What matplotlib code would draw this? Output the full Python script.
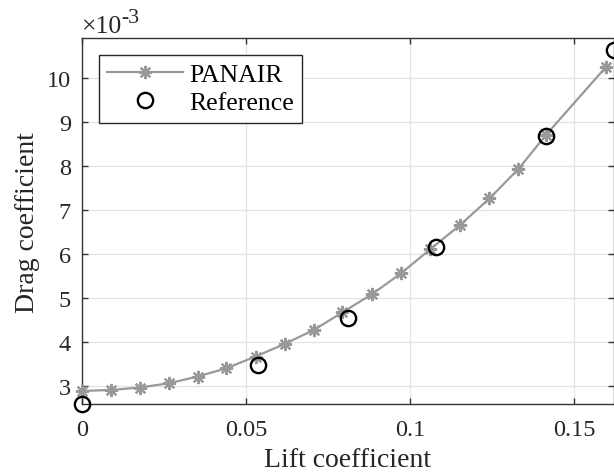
import matplotlib
matplotlib.use("Agg")
import matplotlib.pyplot as plt
from matplotlib.ticker import FixedLocator, FuncFormatter

plt.rcParams["font.family"] = ["Liberation Serif", "DejaVu Serif"]

# PANAIR polar: lift coefficient vs drag coefficient
panair_cl = [0.0, 0.00885, 0.0176, 0.0265, 0.0353, 0.0440, 0.0529, 0.0618,
             0.0707, 0.0793, 0.0884, 0.0972, 0.1062, 0.1152, 0.1242, 0.1330,
             0.1414, 0.1596]
panair_cd = [2.886e-3, 2.909e-3, 2.964e-3, 3.061e-3, 3.214e-3, 3.402e-3,
             3.668e-3, 3.955e-3, 4.273e-3, 4.668e-3, 5.084e-3, 5.555e-3,
             6.107e-3, 6.652e-3, 7.259e-3, 7.925e-3, 8.698e-3, 10.236e-3]

# Reference data points
ref_cl = [0.0, 0.0536, 0.0811, 0.1080, 0.1415, 0.1620]
ref_cd = [2.59e-3, 3.48e-3, 4.55e-3, 6.16e-3, 8.68e-3, 10.64e-3]

x_ticks = [0, 0.05, 0.1, 0.15]
x_tick_labels = ["0", "0.05", "0.1", "0.15"]
y_ticks = [3e-3, 4e-3, 5e-3, 6e-3, 7e-3, 8e-3, 9e-3, 10e-3]

TICK_FS = 17.5
LEG_FS = 18.5
LABEL_FS = 20
W, H = 614, 477
fig = plt.figure(figsize=(W / 100, H / 100), dpi=100)
ax = fig.add_axes([82 / W, 1 - 405 / H, (613.5 - 82) / W, (405 - 39.3) / H])

ax.plot(panair_cl, panair_cd, color="#999999", lw=1.6,
        marker=(8, 2, 0), markersize=9.5, markeredgewidth=1.6,
        label="PANAIR", clip_on=False, zorder=3)
ax.plot(ref_cl, ref_cd, linestyle="none", marker="o", markersize=11,
        markerfacecolor="none", markeredgecolor="black", markeredgewidth=1.7,
        label="Reference", clip_on=False, zorder=4)

ax.set_xlim(0, 0.162)
ax.set_ylim(2.59e-3, 10.895e-3)

ax.xaxis.set_major_locator(FixedLocator(x_ticks))
ax.set_xticklabels(x_tick_labels)
ax.yaxis.set_major_locator(FixedLocator(y_ticks))
ax.yaxis.set_major_formatter(FuncFormatter(lambda v, p: f"{v * 1e3:.0f}"))

ax.grid(True, color="#e2e2e2", lw=0.9)
ax.set_axisbelow(True)
for s in ax.spines.values():
    s.set_color("#333333")
    s.set_linewidth(1.0)
ax.tick_params(direction="in", length=4.5, width=1.0, color="#333333",
               top=True, right=True, labelsize=TICK_FS, labelcolor="#262626")
ax.tick_params(axis="x", pad=11)
ax.tick_params(axis="y", pad=8)

ax.set_xlabel("Lift coefficient", fontsize=LABEL_FS, color="#262626", labelpad=5)
ax.set_ylabel("Drag coefficient", fontsize=LABEL_FS, color="#262626", labelpad=5)

# exponent marker above the y axis
fig.text(82 / W, 1 - 33.3 / H, "\u00d710", fontsize=LEG_FS, color="#262626",
         ha="left", va="baseline")
fig.text(121 / W, 1 - 23 / H, "-3", fontsize=LEG_FS * 0.85, color="#262626",
         ha="left", va="baseline")

leg = ax.legend(loc="upper left", bbox_to_anchor=((99 - 82) / 531.5, (405 - 56) / 365.7),
                borderaxespad=0, fontsize=LEG_FS, frameon=True, fancybox=False,
                framealpha=1, edgecolor="#262626", handlelength=2.95,
                handletextpad=0.25, labelspacing=0.2, borderpad=0.32)
leg.get_frame().set_linewidth(1.0)

fig.savefig("out.png", dpi=100)
